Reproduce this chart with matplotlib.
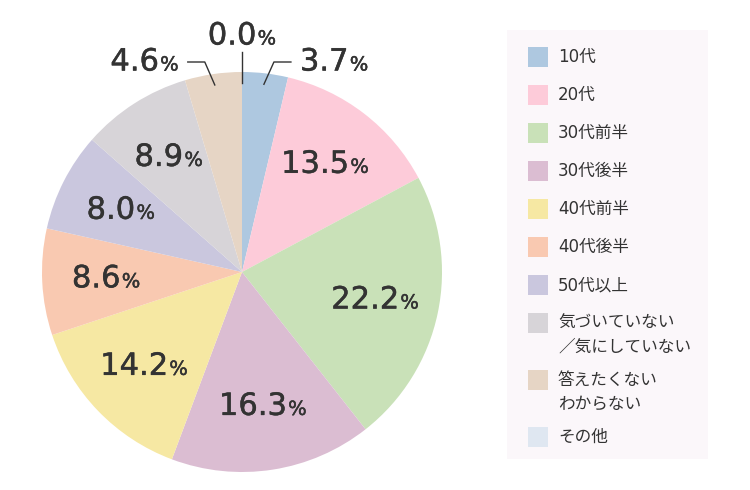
import numpy as np
import matplotlib
matplotlib.use("Agg")
import matplotlib.pyplot as plt
import matplotlib.patheffects as pe
from matplotlib.patches import Rectangle
from matplotlib.offsetbox import TextArea, HPacker, AnnotationBbox

plt.rcParams['font.family'] = ['DejaVu Sans', 'Noto Sans CJK JP']

# ---- data ----
categories = ['10代', '20代', '30代前半', '30代後半', '40代前半', '40代後半',
              '50代以上', '気づいていない\n／気にしていない', '答えたくない\nわからない', 'その他']
values = [3.7, 13.5, 22.2, 16.3, 14.2, 8.6, 8.0, 8.9, 4.6, 0.0]
colors = ['#aec8e0', '#fdcbd9', '#c9e1b8', '#dbbdd2', '#f6e8a3', '#f9c9b1',
          '#cac7de', '#d7d4d8', '#e6d5c5', '#dfe7f1']

W, H = 750, 490
CX, CY, R = 242, 272, 200  # pie centre / radius in pixels (from top-left)
TXT = '#333333'
thick = [pe.withStroke(linewidth=0.35, foreground=TXT)]

fig = plt.figure(figsize=(W / 100, H / 100), dpi=100)
ax = fig.add_axes([0, 0, 1, 1])
ax.pie(values, colors=colors, startangle=90, counterclock=False, radius=1,
       wedgeprops=dict(linewidth=0))
ax.set_xlim((0 - CX) / R, (W - CX) / R)
ax.set_ylim((CY - H) / R, (CY - 0) / R)
ax.set_aspect('equal', adjustable='datalim')
ax.axis('off')


def pct_box(txt):
    num = TextArea(txt, textprops=dict(size=22, color=TXT, path_effects=thick))
    pc = TextArea('%', textprops=dict(size=14, color=TXT, path_effects=thick))
    return HPacker(children=[num, pc], align='baseline', pad=0, sep=1)


cum = np.cumsum([0] + values[:-1])
total = sum(values)
for v, c0 in zip(values, cum):
    theta = np.deg2rad((c0 + v / 2) / total * 360)
    s, c = np.sin(theta), np.cos(theta)
    label = f'{v:.1f}'
    if v >= 5:
        r = 0.68
        ab = AnnotationBbox(pct_box(label), (r * s, r * c), frameon=False,
                            box_alignment=(0.5, 0.5), annotation_clip=False)
        ax.add_artist(ab)
    else:
        sx, sy = 0.945 * s, 0.945 * c
        if abs(s) < 0.05:
            ax.plot([sx, sx], [sy, 1.1], color=TXT, lw=1.0, clip_on=False)
            ab = AnnotationBbox(pct_box(label), (sx, 1.18), frameon=False,
                                box_alignment=(0.5, 0.5), annotation_clip=False)
        else:
            sg = np.sign(s)
            ex = sx + sg * 0.05
            hx = ex + sg * 0.085
            ax.plot([sx, ex, hx], [sy, 1.05, 1.05], color=TXT, lw=1.0, clip_on=False)
            ab = AnnotationBbox(pct_box(label), (hx + sg * 0.045, 1.05), frameon=False,
                                box_alignment=(0 if sg > 0 else 1, 0.5),
                                annotation_clip=False)
        ax.add_artist(ab)


# ---- legend (drawn in pixel coordinates) ----
def fx(x):
    return x / W


def fy(y):
    return 1 - y / H


fig.add_artist(Rectangle((fx(507), fy(459)), (708 - 507) / W, (459 - 30) / H,
                         transform=fig.transFigure, facecolor='#fbf7fa',
                         edgecolor='none', zorder=0))
y = 57
for cat, col in zip(categories, colors):
    fig.add_artist(Rectangle((fx(528), fy(y + 10)), 20 / W, 20 / H,
                             transform=fig.transFigure, facecolor=col,
                             edgecolor='none'))
    lines = cat.split('\n')
    for i, ln in enumerate(lines):
        fig.text(fx(558), fy(y + i * 24), ln, ha='left', va='center',
                 fontsize=12, color=TXT,
                 family=['DejaVu Sans', 'Noto Sans CJK JP'])
    y += 38 + 19 * (len(lines) - 1)

fig.savefig('out.png', dpi=100)
